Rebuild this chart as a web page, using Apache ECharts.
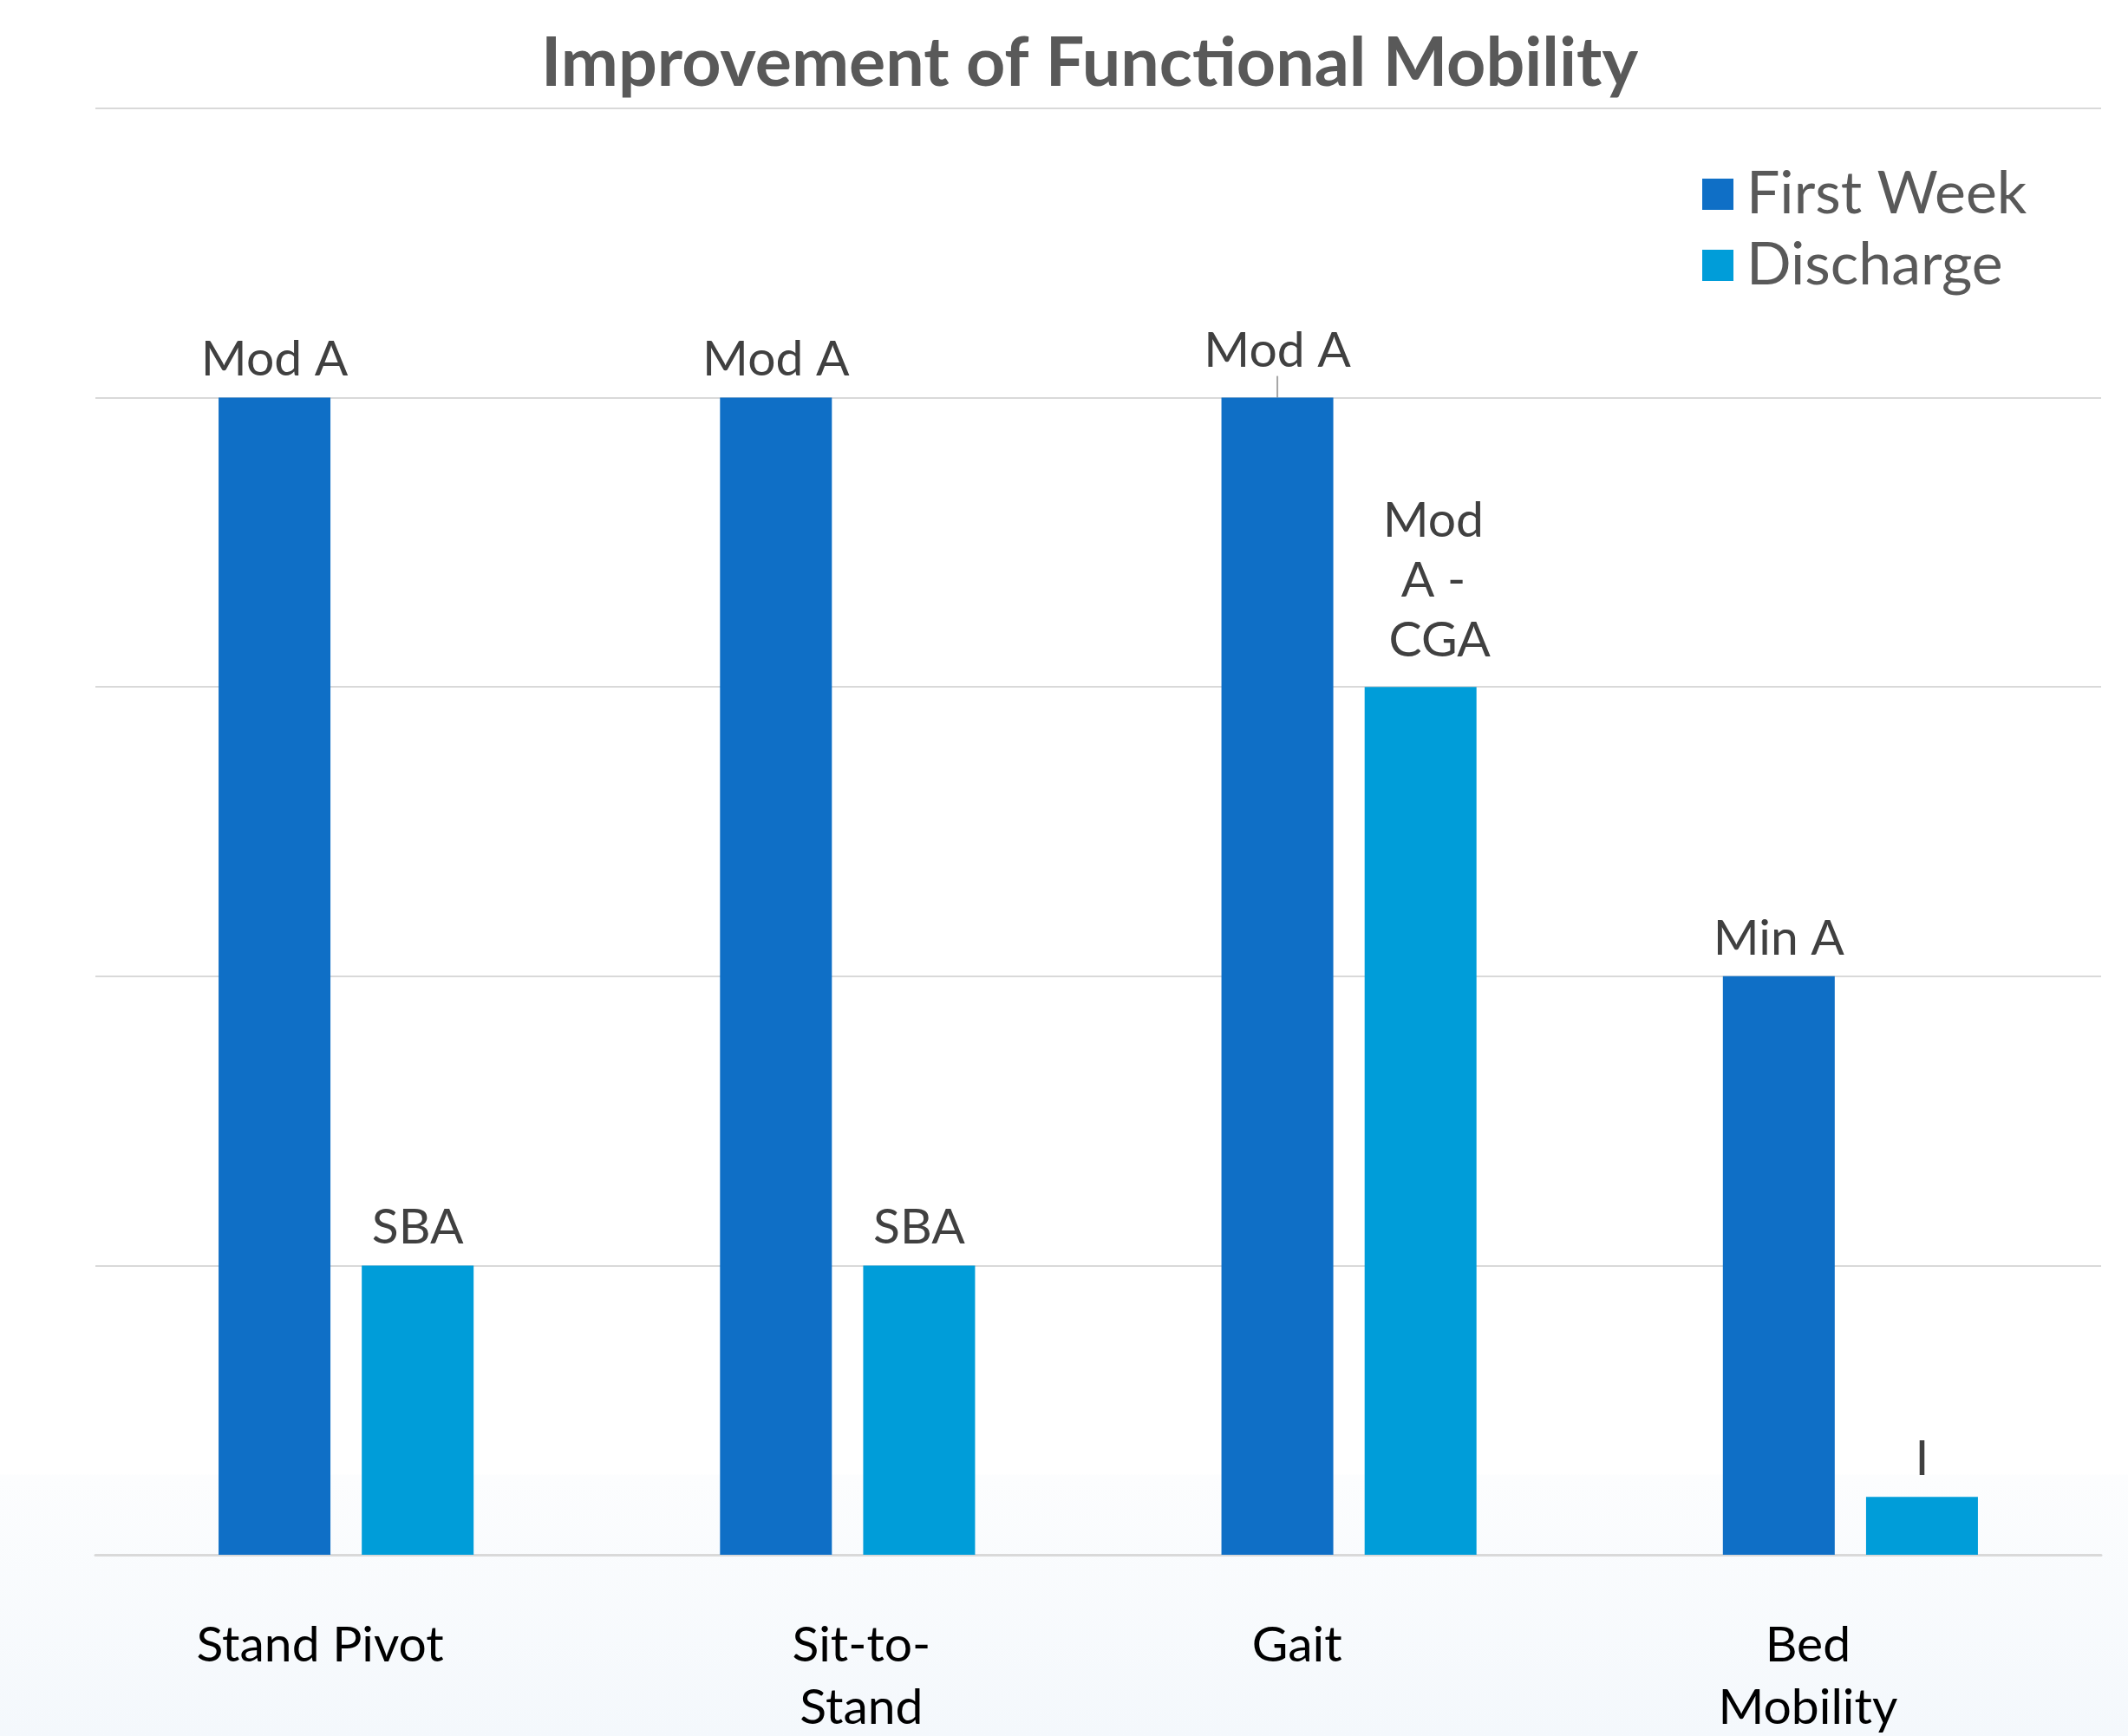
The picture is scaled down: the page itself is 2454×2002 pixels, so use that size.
<!DOCTYPE html>
<html>
<head>
<meta charset="utf-8">
<script src="https://cdn.jsdelivr.net/npm/echarts@6/dist/echarts.min.js"></script>
<style>
  html, body { margin: 0; padding: 0; background: #ffffff; }
  #chart { width: 2454px; height: 2002px; }
</style>
</head>
<body>
<div id="chart"></div>
<script>
// ---- Data ----
const categories = ['Stand Pivot', 'Sit-to-\nStand', 'Gait', 'Bed\nMobility'];
const seriesNames = ['First Week', 'Discharge'];
const firstWeekValues = [4, 4, 4, 2];
const dischargeValues = [1, 1, 3, 0.2];
const firstWeekLabels = ['Mod A', 'Mod A', 'Mod A', 'Min A'];
const dischargeLabels = ['SBA', 'SBA', 'Mod A - CGA', 'I'];
const yTicks = [0, 1, 2, 3, 4, 5];

// ---- Styling ----
const FONT = 'Lato';
const colors = ['#0F6FC6', '#009DD9'];
const labelShift = [
  [0, 60, 0, 0],
  [0, 0, 0, 32],
  [0, 120, 0, 0],
  [0, 98, 0, 0]
];
const rich = {};
labelShift.forEach((p, i) => {
  rich['s' + i] = { fontFamily: FONT, fontSize: 57, lineHeight: 72, color: '#000000', padding: p };
});

const chart = echarts.init(document.getElementById('chart'), null, { renderer: 'canvas' });

function buildData(values, labels, special) {
  return values.map((v, i) => {
    const item = { value: v, labelText: labels[i] };
    if (special && special[i]) Object.assign(item, special[i]);
    return item;
  });
}

const option = {
  backgroundColor: {
    type: 'linear', x: 0, y: 0, x2: 0, y2: 1,
    colorStops: [
      { offset: 0, color: '#ffffff' },
      { offset: 0.849, color: '#ffffff' },
      { offset: 0.85, color: '#fcfdfe' },
      { offset: 1, color: '#f4f8fc' }
    ]
  },
  animation: false,
  color: colors,
  title: {
    text: 'Improvement of Functional Mobility',
    left: 619,
    top: 24,
    textStyle: { fontFamily: FONT, fontSize: 79, fontWeight: 'bold', color: '#595959', lineHeight: 90 }
  },
  legend: {
    orient: 'vertical',
    left: 1958,
    top: 185,
    itemWidth: 36,
    itemHeight: 36,
    itemGap: 14,
    icon: 'rect',
    data: seriesNames,
    textStyle: { fontFamily: FONT, fontSize: 68, lineHeight: 66, color: '#595959', padding: [0, 0, 0, 10] }
  },
  grid: { left: 110, right: 31, top: 125, bottom: 209, containLabel: false },
  xAxis: {
    type: 'category',
    data: categories,
    axisLine: { show: true, lineStyle: { color: '#d9d9d9', width: 3 } },
    axisTick: { show: false },
    axisLabel: {
      margin: 69,
      interval: 0,
      formatter: (value, idx) => value.split('\n').map(l => '{s' + idx + '|' + l + '}').join('\n'),
      rich: rich
    }
  },
  yAxis: {
    type: 'value',
    min: yTicks[0],
    max: yTicks[yTicks.length - 1],
    interval: 1,
    axisLabel: { show: false },
    axisLine: { show: false },
    axisTick: { show: false },
    splitLine: { lineStyle: { color: '#d9d9d9', width: 2 } }
  },
  series: [
    {
      name: seriesNames[0],
      type: 'bar',
      barWidth: 129,
      barGap: '28%',
      data: buildData(firstWeekValues, firstWeekLabels, {
        2: { labelLine: { show: true, lineStyle: { color: '#a6a6a6', width: 2 } } }
      }),
      label: {
        show: true,
        position: 'top',
        distance: 15,
        fontFamily: FONT,
        fontSize: 57,
        color: '#404040',
        formatter: p => p.data.labelText
      },
      labelLayout: p => (p.dataIndex === 2 ? { dy: -10 } : {}),
      labelLine: { show: false }
    },
    {
      name: seriesNames[1],
      type: 'bar',
      barWidth: 129,
      data: buildData(dischargeValues, dischargeLabels, {
        2: { label: { width: 140, overflow: 'break', lineHeight: 69, distance: 19, offset: [22, 0] } }
      }),
      label: {
        show: true,
        position: 'top',
        distance: 15,
        fontFamily: FONT,
        fontSize: 57,
        color: '#404040',
        align: 'center',
        formatter: p => p.data.labelText
      }
    }
  ]
};

chart.setOption(option);
</script>
</body>
</html>
